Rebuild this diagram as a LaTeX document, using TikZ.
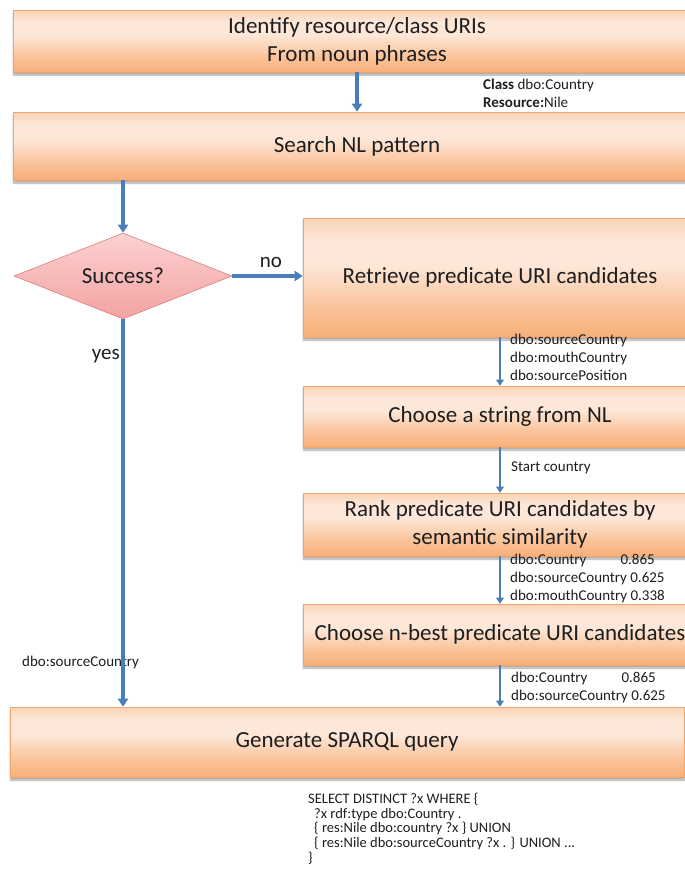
\documentclass[tikz,border=0pt]{standalone}
\usepackage{fontspec}
\setmainfont{Carlito}
\usetikzlibrary{arrows.meta,shapes.geometric,shadows.blur}
\definecolor{boxtop}{HTML}{F9D2B4}
\definecolor{boxmid}{HTML}{FDE7D8}
\definecolor{boxlow}{HTML}{FAC49B}
\definecolor{boxbot}{HTML}{F7AF78}
\definecolor{boxline}{HTML}{EFA56E}
\definecolor{dtop}{HTML}{FBD2D1}
\definecolor{dbot}{HTML}{F4A2A2}
\definecolor{dline}{HTML}{DB7F7D}
\definecolor{arr}{HTML}{4A7EBB}
\definecolor{txt}{HTML}{1E1E1E}
\pgfdeclareverticalshading{boxshade}{100bp}{color(0bp)=(boxbot); color(25bp)=(boxbot); color(38bp)=(boxlow); color(55bp)=(boxmid); color(66bp)=(boxmid); color(75bp)=(boxtop); color(100bp)=(boxtop)}
\pgfdeclareverticalshading{dshade}{100bp}{color(0bp)=(dbot); color(25bp)=(dbot); color(75bp)=(dtop); color(100bp)=(dtop)}
\tikzset{
  pbox/.style={rectangle, draw=boxline, line width=0.6pt, shading=boxshade,
    blur shadow={shadow xshift=0.5pt, shadow yshift=-3pt, shadow blur steps=6, shadow opacity=35},
    inner sep=0pt, text=txt, font=\fontsize{23}{28}\selectfont, align=center},
  decbox/.style={diamond, draw=dline, line width=0.6pt, shading=dshade, aspect=2.5,
    inner sep=0pt, text=txt, font=\fontsize{23}{28}\selectfont},
  flow/.style={draw=arr, line width=3.2pt, -{Triangle[length=8pt,width=10pt]}},
  thinflow/.style={draw=arr, line width=2.1pt, -{Triangle[length=6pt,width=7.5pt]}},
  lbl/.style={font=\fontsize{15}{18}\selectfont, text=txt, align=left, inner sep=0pt, anchor=west},
  code/.style={font=\fontsize{14.5}{14.6}\selectfont, text=txt, align=left, inner sep=0pt, anchor=north west},
  word/.style={font=\fontsize{21}{24}\selectfont, text=txt, inner sep=0pt}
}
\begin{document}
\begin{tikzpicture}[x=1pt,y=-1pt]
\useasboundingbox (0,0) rectangle (685,878);
\clip (0,0) rectangle (685,878);

% boxes
\node[pbox, minimum width=688pt, minimum height=62pt] (b1) at (357,41) {Identify resource/class URIs\\From noun phrases};
\node[pbox, minimum width=688pt, minimum height=68pt] (b2) at (357,146) {Search NL pattern};
\node[decbox, minimum width=218pt, minimum height=86pt] (dia) at (123,276) {Success?};
\node[pbox, minimum width=394pt, minimum height=119pt] (b3) at (500,277.5) {Retrieve predicate URI candidates};
\node[pbox, minimum width=394pt, minimum height=61pt] (b4) at (500,416.5) {Choose a string from NL};
\node[pbox, minimum width=394pt, minimum height=63pt] (b5) at (500,524.5) {Rank predicate URI candidates by\\semantic similarity};
\node[pbox, minimum width=394pt, minimum height=61pt] (b6) at (500,634.5) {Choose n-best predicate URI candidates};
\node[pbox, minimum width=674pt, minimum height=70pt] (b7) at (347,742) {Generate SPARQL query};

% labels
\node[lbl] (l1) at (483,93) {\textbf{Class} dbo:Country\\\textbf{Resource:}Nile};
\node[lbl] (l3) at (510,357) {dbo:sourceCountry\\dbo:mouthCountry\\dbo:sourcePosition};
\node[lbl] (l4) at (511,468) {Start country};
\node[lbl] (l5) at (510,578) {dbo:Country\hspace*{34pt}0.865\\dbo:sourceCountry 0.625\\dbo:mouthCountry 0.338};
\node[lbl] (l6) at (511,687.5) {dbo:Country\hspace*{34pt}0.865\\dbo:sourceCountry 0.625};
\node[lbl] (l7) at (22,662) {dbo:sourceCountry};
\node[word] (no) at (271,262) {no};
\node[word, anchor=east] (yes) at (120,356) {yes};
\node[code] (q) at (308,793) {SELECT DISTINCT ?x WHERE \{\\
\hspace*{6pt}?x rdf:type dbo:Country .\\
\hspace*{6pt}\{ res:Nile dbo:country ?x \} UNION\\
\hspace*{6pt}\{ res:Nile dbo:sourceCountry ?x . \} UNION ...\\
\}};

% connectors
\draw[flow] (b1.south) -- (b2.north);
\draw[flow] (dia.north |- b2.south) -- (dia.north);
\draw[flow] (dia.east) -- (dia.east -| b3.west);
\draw[flow] (dia.south) -- (dia.south |- b7.north);
\draw[thinflow] (b3.south) -- (b4.north);
\draw[thinflow] (b4.south) -- (b5.north);
\draw[thinflow] (b5.south) -- (b6.north);
\draw[thinflow] (b6.south) -- (b6.south |- b7.north);
\end{tikzpicture}
\end{document}
